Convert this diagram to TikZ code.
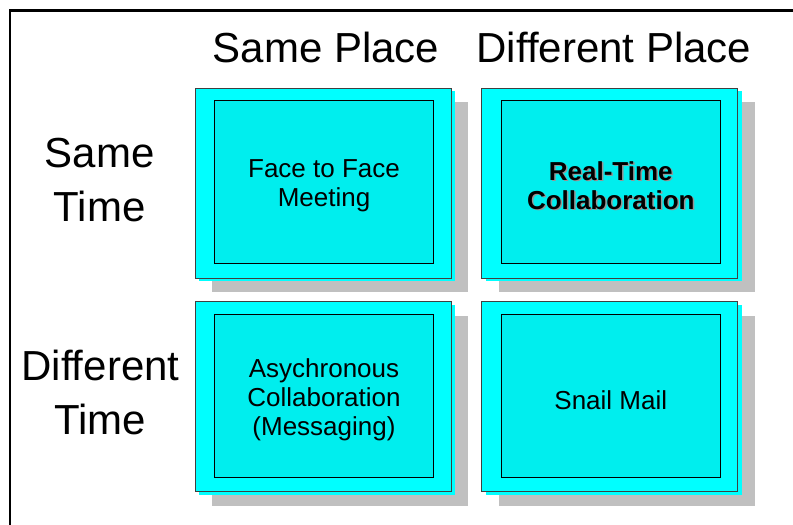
\documentclass[tikz,border=0pt]{standalone}
\usepackage{fontspec}
\setmainfont{Liberation Sans}
\usetikzlibrary{positioning,shadows}

\definecolor{cellcyan}{RGB}{0,255,255}
\definecolor{facecyan}{RGB}{0,238,238}
\definecolor{cellshade}{RGB}{192,192,192}
\definecolor{rimgray}{RGB}{64,64,64}
\definecolor{textshade}{RGB}{150,150,150}

% bold label with a small grey offset copy behind it
\newcommand{\shadowed}[1]{\makebox[0pt][l]{\hspace{1.5pt}\raisebox{-1.5pt}{\textcolor{textshade}{#1}}}#1}

\begin{document}
\begin{tikzpicture}[x=1pt,y=-1pt,
  cellbox/.style={rectangle,draw=rimgray,line width=0.8pt,fill=cellcyan,
    minimum width=256pt,minimum height=190pt,
    drop shadow={shadow xshift=17pt,shadow yshift=-14pt,fill=cellshade,opacity=1},
    general shadow={shadow xshift=4pt,shadow yshift=-3pt,fill=cellcyan}},
  cellface/.style={rectangle,draw=black,line width=0.8pt,fill=facecyan,
    minimum width=219pt,minimum height=163pt},
  celltext/.style={inner sep=0pt,align=center,font=\fontsize{26}{29}\selectfont},
  head/.style={inner sep=0pt,align=center,font=\fontsize{42}{54}\selectfont}]
\useasboundingbox (0,0) rectangle (793,525);

\draw[line width=2.8pt] (793,10.5) -- (10,10.5) -- (10,525);

\node[cellbox]                   (ftf)   at (323,183) {};
\node[cellbox,right=30pt of ftf] (rtc)   {};
\node[cellbox,below=23pt of ftf] (async) {};
\node[cellbox,below=23pt of rtc] (snail) {};

\node[cellface] (ftf-in)   at ([shift={(1,-1)}]ftf.center)   {};
\node[cellface] (rtc-in)   at ([shift={(1,-1)}]rtc.center)   {};
\node[cellface] (async-in) at ([shift={(1,-1)}]async.center) {};
\node[cellface] (snail-in) at ([shift={(1,-1)}]snail.center) {};

\node[celltext] (ftf-txt)   at ([yshift=-4pt]ftf-in.center)   {Face to Face\\Meeting};
\node[celltext,font=\fontsize{26}{29}\selectfont\bfseries]
                (rtc-txt)   at ([yshift=-4pt]rtc-in.center)   {\shadowed{Real-Time}\\\shadowed{Collaboration}};
\node[celltext] (async-txt) at ([yshift=-4pt]async-in.center) {Asychronous\\Collaboration\\(Messaging)};
\node[celltext] (snail-txt) at ([yshift=-4pt]snail-in.center) {Snail Mail};

\node[head,above=24pt of ftf,xshift=3pt]   (sameplace) {Same Place};
\node[head,above=24pt of rtc,xshift=4pt]   (diffplace) {Different Place};
\node[head,left=40pt of ftf,yshift=2.5pt]  (sametime)  {Same\\Time};
\node[head,left=15pt of async,yshift=4.5pt] (difftime) {Different\\Time};
\end{tikzpicture}
\end{document}
